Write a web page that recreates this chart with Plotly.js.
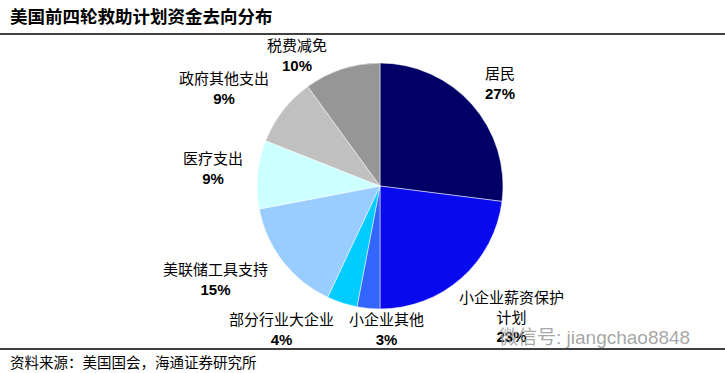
<!DOCTYPE html>
<html>
<head>
<meta charset="utf-8">
<script src="https://cdn.plot.ly/plotly-3.0.1.min.js"></script>
<style>html,body{margin:0;padding:0;background:#fff;}#chart{width:725px;height:373px;}</style>
</head>
<body>
<div id="chart"></div>
<script>
var categories = ["居民", "小企业薪资保护计划", "小企业其他", "部分行业大企业", "美联储工具支持", "医疗支出", "政府其他支出", "税费减免"];
var labelLines = ["居民", "小企业薪资保护<br>计划", "小企业其他", "部分行业大企业", "美联储工具支持", "医疗支出", "政府其他支出", "税费减免"];
var shares = [27, 23, 3, 4, 15, 9, 9, 10];
var colors = ["#000066", "#0a0af0", "#3366ff", "#00ccff", "#99ccff", "#ccffff", "#c0c0c0", "#969696"];

var W = 725, H = 373;
var cx = 380, cy = 186, r = 123;
// label anchor positions (pixels) for each category
var labelPos = [[500, 83], [512, 317], [386, 329], [281, 329], [215, 279], [213, 168], [224, 89], [297, 56]];

var total = shares.reduce(function(a, b){return a + b;}, 0);

var trace = {
  type: "pie",
  labels: categories,
  values: shares,
  sort: false,
  direction: "clockwise",
  rotation: 0,
  textinfo: "none",
  hoverinfo: "label+percent",
  marker: {colors: colors, line: {color: "#ffffff", width: 0.5}},
  domain: {x: [(cx - r) / W, (cx + r) / W], y: [(H - cy - r) / H, (H - cy + r) / H]},
  showlegend: false
};

var annotations = categories.map(function(c, i) {
  var pct = Math.round(shares[i] / total * 100) + "%";
  return {
    xref: "paper", yref: "paper",
    x: labelPos[i][0] / W, y: 1 - labelPos[i][1] / H,
    xanchor: "center", yanchor: "middle",
    showarrow: false,
    align: "center",
    text: labelLines[i] + "<br><b>" + pct + "</b>",
    font: {family: "Liberation Sans, Noto Sans CJK SC, sans-serif", size: 15, color: "#000"}
  };
});

annotations.push({
  xref: "paper", yref: "paper", x: 8 / W, y: 1 - 15 / H,
  xanchor: "left", yanchor: "middle", showarrow: false,
  text: "<b>美国前四轮救助计划资金去向分布</b>",
  font: {family: "Noto Sans CJK SC, sans-serif", size: 17.5, color: "#000"}
});
annotations.push({
  xref: "paper", yref: "paper", x: 8 / W, y: 1 - 361 / H,
  xanchor: "left", yanchor: "middle", showarrow: false,
  text: "资料来源：美国国会，海通证券研究所",
  font: {family: "Noto Sans CJK SC, sans-serif", size: 14.5, color: "#000"}
});
annotations.push({
  xref: "paper", yref: "paper", x: 497 / W, y: 1 - 337 / H,
  xanchor: "left", yanchor: "middle", showarrow: false,
  text: "微信号: jiangchao8848",
  font: {family: "Liberation Sans, Noto Sans CJK SC, sans-serif", size: 19, color: "rgba(150,150,150,0.85)"}
});

var layout = {
  width: W, height: H,
  margin: {l: 0, r: 0, t: 0, b: 0},
  paper_bgcolor: "#ffffff",
  plot_bgcolor: "#ffffff",
  showlegend: false,
  annotations: annotations,
  shapes: [
    {type: "line", xref: "paper", yref: "paper", x0: 0, x1: 1, y0: 1 - 34 / H, y1: 1 - 34 / H, line: {color: "#000", width: 1.5}},
    {type: "line", xref: "paper", yref: "paper", x0: 0, x1: 1, y0: 1 - 349 / H, y1: 1 - 349 / H, line: {color: "#000", width: 1.5}}
  ]
};

Plotly.newPlot("chart", [trace], layout, {displayModeBar: false, staticPlot: true});
</script>
</body>
</html>
